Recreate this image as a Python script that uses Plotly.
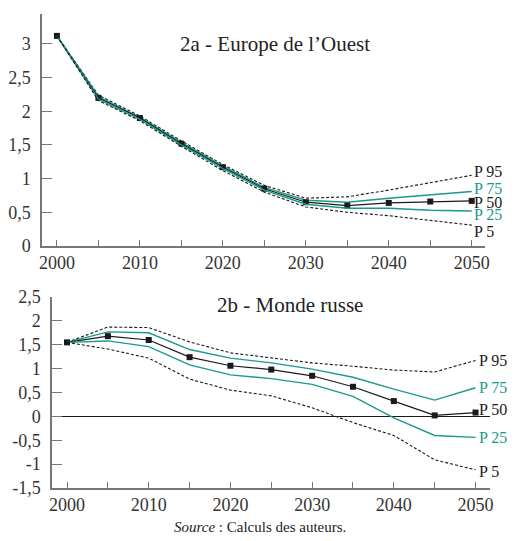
import plotly.graph_objects as go

years = [2000, 2005, 2010, 2015, 2020, 2025, 2030, 2035, 2040, 2045, 2050]

# 2a - Europe de l'Ouest
eu_p95 = [3.12, 2.24, 1.93, 1.56, 1.21, 0.90, 0.71, 0.73, 0.83, 0.94, 1.05]
eu_p75 = [3.12, 2.22, 1.91, 1.54, 1.19, 0.87, 0.68, 0.65, 0.71, 0.76, 0.81]
eu_p50 = [3.12, 2.20, 1.90, 1.52, 1.17, 0.85, 0.65, 0.60, 0.64, 0.66, 0.67]
eu_p25 = [3.12, 2.18, 1.88, 1.50, 1.15, 0.83, 0.62, 0.56, 0.56, 0.53, 0.52]
eu_p5 = [3.12, 2.16, 1.86, 1.48, 1.12, 0.80, 0.58, 0.50, 0.45, 0.38, 0.31]

# 2b - Monde russe
ru_p95 = [1.55, 1.87, 1.86, 1.56, 1.33, 1.22, 1.12, 1.05, 0.97, 0.93, 1.17]
ru_p75 = [1.55, 1.77, 1.75, 1.40, 1.22, 1.12, 0.99, 0.82, 0.57, 0.34, 0.60]
ru_p50 = [1.55, 1.68, 1.60, 1.24, 1.06, 0.98, 0.85, 0.62, 0.32, 0.02, 0.08]
ru_p25 = [1.55, 1.58, 1.46, 1.08, 0.87, 0.79, 0.67, 0.42, -0.03, -0.40, -0.44]
ru_p5 = [1.55, 1.41, 1.22, 0.78, 0.55, 0.43, 0.18, -0.13, -0.40, -0.91, -1.12]

labels = ["P 95", "P 75", "P 50", "P 25", "P 5"]
x_tickvals = [2000, 2010, 2020, 2030, 2040, 2050]
x_ticktext = ["2000", "2010", "2020", "2030", "2040", "2050"]
eu_ytickvals = [0, 0.5, 1, 1.5, 2, 2.5, 3]
eu_yticktext = ["0", "0,5", "1", "1,5", "2", "2,5", "3"]
ru_ytickvals = [-1.5, -1, -0.5, 0, 0.5, 1, 1.5, 2, 2.5]
ru_yticktext = ["-1,5", "-1", "-0,5", "0", "0,5", "1", "1,5", "2", "2,5"]

TEAL = "#199a8c"
BLACK = "#1a1a1a"
FONT = "Liberation Serif, Times New Roman, serif"

fig = go.Figure()

def add_panel(series, xa, ya):
    styles = [
        dict(color=BLACK, width=1.1, dash="3px,2px"),
        dict(color=TEAL, width=1.4),
        dict(color=BLACK, width=1.2),
        dict(color=TEAL, width=1.4),
        dict(color=BLACK, width=1.1, dash="3px,2px"),
    ]
    for i, (vals, st) in enumerate(zip(series, styles)):
        mode = "lines+markers" if i == 2 else "lines"
        fig.add_trace(go.Scatter(
            x=years, y=vals, mode=mode, line=st,
            marker=dict(symbol="square", size=6, color=BLACK),
            xaxis=xa, yaxis=ya, showlegend=False, hoverinfo="skip"))

add_panel([eu_p95, eu_p75, eu_p50, eu_p25, eu_p5], "x", "y")
add_panel([ru_p95, ru_p75, ru_p50, ru_p25, ru_p5], "x2", "y2")

axis_common = dict(
    showgrid=False, showline=True, linecolor="#777777", linewidth=1.5,
    ticks="inside", tickcolor="#777777", tickwidth=1.2, automargin=False,
    tickfont=dict(family=FONT, size=18, color="#333333"),
)

fig.update_layout(
    width=521, height=541,
    margin=dict(l=0, r=0, t=0, b=0, pad=0, autoexpand=False),
    paper_bgcolor="white", plot_bgcolor="white",
    showlegend=False,
    xaxis=dict(domain=[0.0806, 0.9309], range=[1998.2, 2051.6],
               tickvals=x_tickvals, ticktext=x_ticktext, ticklen=6,
               minor=dict(dtick=5, tick0=2000, ticks="inside", ticklen=6,
                          tickcolor="#777777", tickwidth=1.2),
               zeroline=False, anchor="y", **axis_common),
    yaxis=dict(domain=[0.5453, 0.9741], range=[0, 3.445],
               tickvals=eu_ytickvals, ticktext=eu_yticktext, ticklen=10,
               ticklabelstandoff=6, zeroline=False, anchor="x", **axis_common),
    xaxis2=dict(domain=[0.0998, 0.9405], range=[1998.16, 2051.77],
                tickvals=x_tickvals, ticktext=x_ticktext, ticklen=6,
                minor=dict(dtick=5, tick0=2000, ticks="inside", ticklen=6,
                           tickcolor="#777777", tickwidth=1.2),
                zeroline=False, anchor="y2", **axis_common),
    yaxis2=dict(domain=[0.0980, 0.4510], range=[-1.5, 2.5],
                tickvals=ru_ytickvals, ticktext=ru_yticktext, ticklen=10,
                ticklabelstandoff=6, zeroline=True, zerolinecolor=BLACK,
                zerolinewidth=1.2, anchor="x2", **axis_common),
)

label_colors = [BLACK, TEAL, BLACK, TEAL, BLACK]
eu_label_y = [1.11, 0.85, 0.65, 0.475, 0.21]
ru_label_y = [1.16, 0.61, 0.15, -0.44, -1.16]

for lab, col, yv in zip(labels, label_colors, eu_label_y):
    fig.add_annotation(x=2050.1, y=yv, xref="x", yref="y", text=lab,
                       showarrow=False, xanchor="left", yanchor="middle",
                       borderpad=0,
                       font=dict(family=FONT, size=16, color=col))
for lab, col, yv in zip(labels, label_colors, ru_label_y):
    fig.add_annotation(x=2050.3, y=yv, xref="x2", yref="y2", text=lab,
                       showarrow=False, xanchor="left", yanchor="middle",
                       borderpad=0,
                       font=dict(family=FONT, size=16, color=col))

fig.add_annotation(x=275 / 521, y=1 - 44 / 541, xref="paper", yref="paper",
                   text="2a - Europe de l’Ouest", showarrow=False,
                   xanchor="center", yanchor="middle",
                   font=dict(family=FONT, size=21, color="#222222"))
fig.add_annotation(x=290 / 521, y=1 - 305 / 541, xref="paper", yref="paper",
                   text="2b - Monde russe", showarrow=False,
                   xanchor="center", yanchor="middle",
                   font=dict(family=FONT, size=21, color="#222222"))
fig.add_annotation(x=260 / 521, y=1 - 527 / 541, xref="paper", yref="paper",
                   text="<i>Source</i> : Calculs des auteurs.", showarrow=False,
                   xanchor="center", yanchor="middle",
                   font=dict(family=FONT, size=15, color="#222222"))

fig.write_html(
    "out.html",
    config={"displayModeBar": False},
    post_script="document.body.style.margin='0';document.body.style.overflow='hidden';",
)
